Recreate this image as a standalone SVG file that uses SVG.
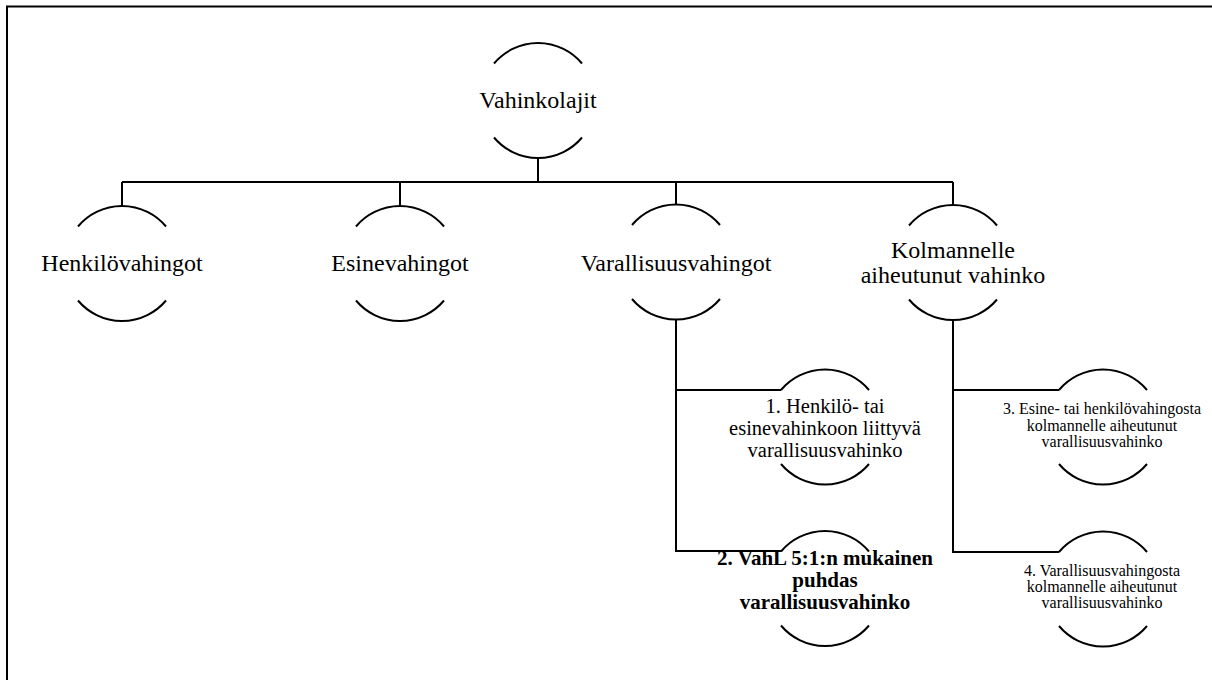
<svg xmlns="http://www.w3.org/2000/svg" xmlns:xlink="http://www.w3.org/1999/xlink" width="1212" height="680" viewBox="0 0 1212 680">
<style>
.ln{fill:none;stroke:#000;stroke-width:2}
.arc{fill:none;stroke:#000;stroke-width:2}
.t{font-family:"Liberation Serif","Times New Roman",serif;fill:#000;text-anchor:middle}
.big{font-size:24px}
.mid{font-size:20.5px}
.bold{font-size:21px;font-weight:bold}
.small{font-size:16px}
</style>
<defs>
<path id="arcs" class="arc" d="M-44,-37 A57.5,57.5 0 0 1 44,-37 M-44,37 A57.5,57.5 0 0 0 44,37"/>
</defs>
<rect width="1212" height="680" fill="#fff"/>
<path class="ln" d="M7,680 V6.5 H1212"/>
<g id="connectors">
<path class="ln" d="M538,158 V182 M122,182 H953 M122,182 V206 M400,182 V206 M676,182 V204.5 M953,182 V205"/>
<path class="ln" d="M676,319.5 V551 H781 M676,390 H781"/>
<path class="ln" d="M953,320 V552 H1059 M953,390 H1059"/>
</g>
<g id="root">
<use xlink:href="#arcs" x="538" y="100.5"/>
<text class="t big" x="538" y="108">Vahinkolajit</text>
</g>
<g id="henkilovahingot">
<use xlink:href="#arcs" x="122" y="263.5"/>
<text class="t big" x="122" y="271">Henkilövahingot</text>
</g>
<g id="esinevahingot">
<use xlink:href="#arcs" x="400" y="263.5"/>
<text class="t big" x="400" y="271">Esinevahingot</text>
</g>
<g id="varallisuusvahingot">
<use xlink:href="#arcs" x="676" y="262"/>
<text class="t big" x="676" y="271">Varallisuusvahingot</text>
</g>
<g id="kolmannelle">
<use xlink:href="#arcs" x="953" y="262.5"/>
<text class="t big" x="953" y="258">Kolmannelle</text>
<text class="t big" x="953" y="283">aiheutunut vahinko</text>
</g>
<g id="c1">
<use xlink:href="#arcs" x="825" y="427"/>
<text class="t mid" x="825" y="413">1. Henkilö- tai</text>
<text class="t mid" x="825" y="435">esinevahinkoon liittyvä</text>
<text class="t mid" x="825" y="457">varallisuusvahinko</text>
</g>
<g id="c2">
<use xlink:href="#arcs" x="825" y="588.5"/>
<text class="t bold" x="825" y="565">2. VahL 5:1:n mukainen</text>
<text class="t bold" x="825" y="587">puhdas</text>
<text class="t bold" x="825" y="609">varallisuusvahinko</text>
</g>
<g id="c3">
<use xlink:href="#arcs" x="1103" y="427"/>
<text class="t small" x="1102" y="414">3. Esine- tai henkilövahingosta</text>
<text class="t small" x="1102" y="431">kolmannelle aiheutunut</text>
<text class="t small" x="1102" y="447">varallisuusvahinko</text>
</g>
<g id="c4">
<use xlink:href="#arcs" x="1103" y="589"/>
<text class="t small" x="1102" y="576">4. Varallisuusvahingosta</text>
<text class="t small" x="1102" y="592">kolmannelle aiheutunut</text>
<text class="t small" x="1102" y="608">varallisuusvahinko</text>
</g>
</svg>
